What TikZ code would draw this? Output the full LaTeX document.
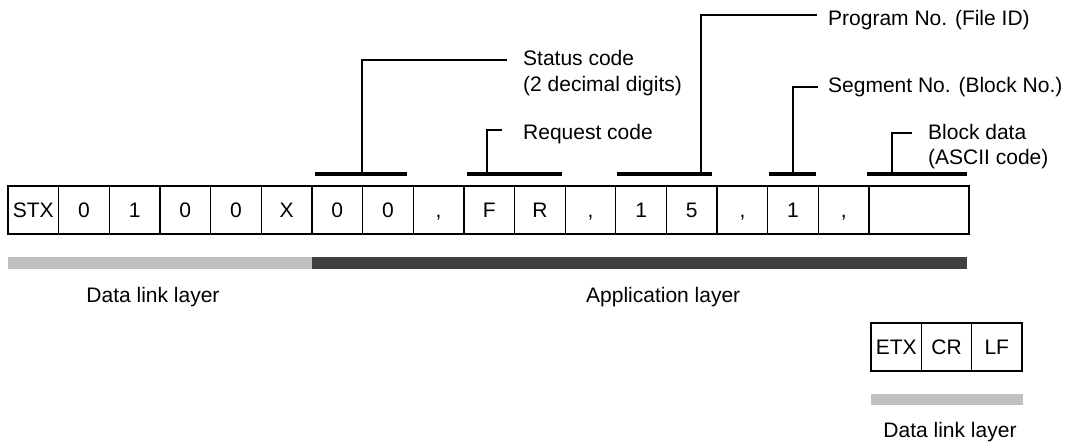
\documentclass[tikz,border=0pt]{standalone}
\usepackage{fontspec}
\setmainfont{Liberation Sans}
\definecolor{lightbar}{RGB}{192,192,192}
\definecolor{darkbar}{RGB}{64,64,64}
\newcommand\commachar{,}
\begin{document}
\begin{tikzpicture}[x=1pt,y=-1pt,
  every node/.style={font=\fontsize{21}{25}\selectfont, inner sep=0pt},
  cell/.style={draw, line width=1.3pt, minimum height=48pt, minimum width=50.65pt, text height=15pt, text depth=0pt},
  smallcell/.style={cell, minimum width=50.33pt},
  bracket/.style={line width=4.3pt},
  leader/.style={line width=1.3pt},
  lbl/.style={anchor=base west}]
\useasboundingbox (0,0) rectangle (1073,446);

% main frame cells
\foreach \t [count=\i from 0] in {STX,0,1,0,0,X,0,0,\commachar,F,R,\commachar,1,5,\commachar,1,\commachar}{
  \node[cell] (c\i) at ({8+50.65*\i+25.325},210) {\t};
}
\node[cell, minimum width=100pt] (c17) at (919,210) {};

% layer bars
\fill[lightbar] (8,257) rectangle (312,269);
\fill[darkbar] (312,257) rectangle (967,269);

% brackets
\draw[bracket] (315,174) -- (407,174);
\draw[bracket] (467,174) -- (562,174);
\draw[bracket] (617,174) -- (712,174);
\draw[bracket] (769,174) -- (816,174);
\draw[bracket] (867,174) -- (967,174);

\coordinate (stB) at (362,174);
\coordinate (rqB) at (487,174);
\coordinate (prB) at (701,174);
\coordinate (sgB) at (793,174);
\coordinate (bdB) at (892,174);

\coordinate (stE) at (507,60);
\coordinate (rqE) at (502,130);
\coordinate (prE) at (817,15);
\coordinate (sgE) at (818,87);
\coordinate (bdE) at (912,133);

% labels
\node[lbl] (st1) at (523,66) {Status code};
\node[lbl] (st2) at (523,92) {(2 decimal digits)};
\node[lbl] (rq) at (523,140) {Request code};
\node[lbl] (pr) at (828,26) {Program No. (File ID)};
\node[lbl] (sg) at (828,93) {Segment No. (Block No.)};
\node[lbl] (bd1) at (928,140) {Block data};
\node[lbl] (bd2) at (928,165) {(ASCII code)};

% leaders
\draw[leader] (stB) |- (stE);
\draw[leader] (rqB) |- (rqE);
\draw[leader] (prB) |- (prE);
\draw[leader] (sgB) |- (sgE);
\draw[leader] (bdB) |- (bdE);

% layer labels
\node[anchor=base] (dl1) at (153,302) {Data link layer};
\node[lbl] (app) at (586,302) {Application layer};

% trailer
\node[smallcell] (e1) at (896.2,347) {ETX};
\node[smallcell] (e2) at (946.5,347) {CR};
\node[smallcell] (e3) at (996.8,347) {LF};
\fill[lightbar] (871,394) rectangle (1023,405);
\node[anchor=base] (dl2) at (950,437) {Data link layer};
\end{tikzpicture}
\end{document}
